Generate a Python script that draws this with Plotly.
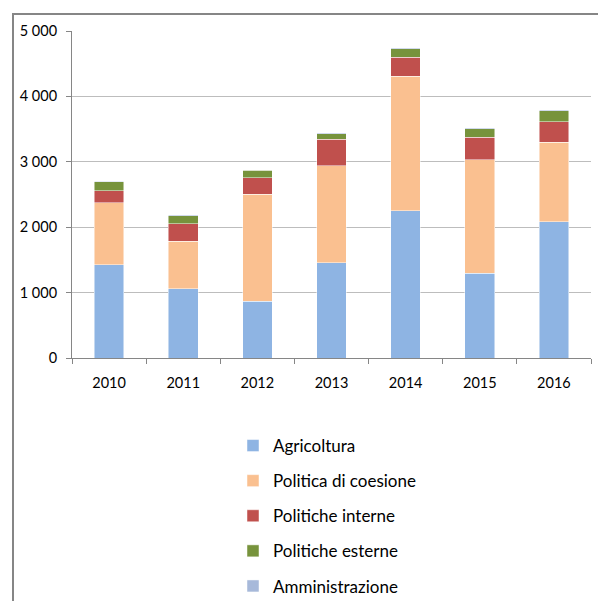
import plotly.graph_objects as go

years = ["2010", "2011", "2012", "2013", "2014", "2015", "2016"]
agricoltura = [1425, 1058, 865, 1456, 2250, 1298, 2082]
coesione = [950, 729, 1640, 1481, 2062, 1735, 1217]
interne = [180, 269, 254, 408, 290, 343, 315]
esterne = [140, 117, 112, 86, 127, 126, 163]
amministrazione = [10, 15, 9, 10, 16, 16, 20]

series = [
    ("Agricoltura", agricoltura, "#8EB4E3"),
    ("Politica di coesione", coesione, "#FAC090"),
    ("Politiche interne", interne, "#C0504D"),
    ("Politiche esterne", esterne, "#77933C"),
    ("Amministrazione", amministrazione, "#A7B9DA"),
]

FONT = "Lato"
fig = go.Figure()
for i, (name, vals, col) in enumerate(series):
    fig.add_trace(go.Bar(
        x=years, y=vals, name=name, legendgroup=f"g{i}",
        marker=dict(color=col, line=dict(color="rgba(255,255,255,0.6)", width=0.8)),
    ))

W, H = 598, 601
L, R, T, B = 72, 7, 31, 243
pw, ph = W - L - R, H - T - B

def px2paper_x(px):
    return (px - L) / pw

def px2paper_y(py):
    return (H - B - py) / ph

fig.add_shape(type="rect", xref="paper", yref="paper",
              x0=px2paper_x(13), x1=px2paper_x(640),
              y0=px2paper_y(660), y1=px2paper_y(14),
              line=dict(color="#868686", width=2), fillcolor="rgba(0,0,0,0)", layer="below")

fig.update_layout(
    width=W, height=H,
    margin=dict(l=L, r=R, t=T, b=B, autoexpand=False),
    barmode="stack", bargap=0.6,
    paper_bgcolor="white", plot_bgcolor="white",
    separators=", ",
    font=dict(family=FONT, size=14, color="#000000"),
    showlegend=True,
    legend=dict(
        x=px2paper_x(233), y=px2paper_y(428), xanchor="left", yanchor="top",
        traceorder="grouped", tracegroupgap=10,
        font=dict(family=FONT, size=17, color="#000000"),
        bgcolor="rgba(0,0,0,0)",
    ),
    xaxis=dict(
        type="category", showline=True, linecolor="#868686", linewidth=1,
        ticks="outside", tickson="boundaries", ticklen=5, tickcolor="#868686",
        showgrid=False, tickfont=dict(size=14.5), ticklabelstandoff=12,
    ),
    yaxis=dict(
        range=[0, 5000], dtick=1000, tickformat=",d",
        showline=True, linecolor="#868686", linewidth=1,
        ticks="outside", ticklen=5, tickcolor="#868686",
        showgrid=True, gridcolor="#BDBDBD", gridwidth=1,
        zeroline=False, tickfont=dict(size=14.5), ticklabelstandoff=6,
    ),
)

fig.write_html("out.html")
